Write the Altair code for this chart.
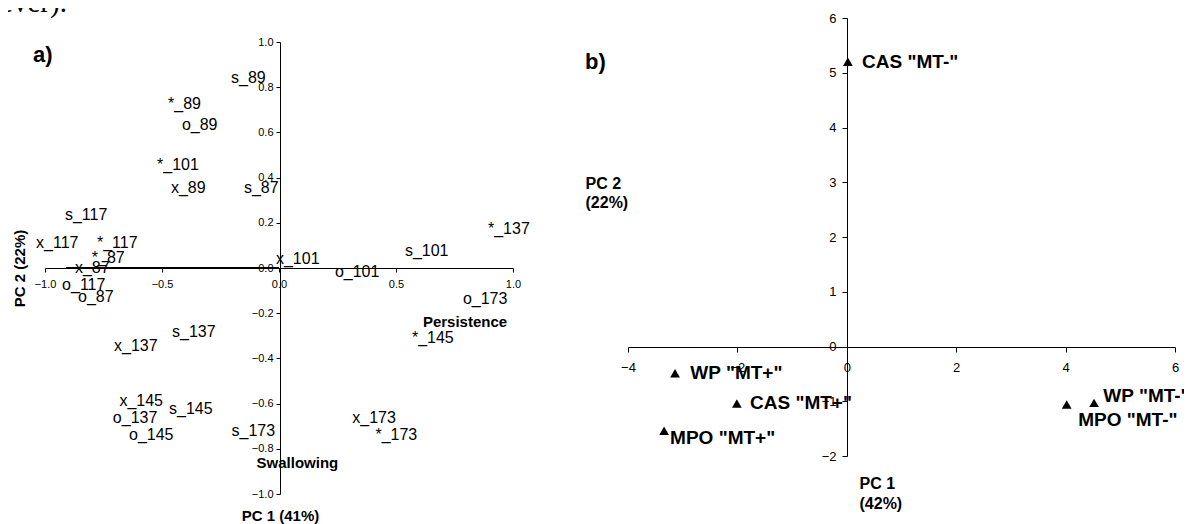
import altair as alt
import pandas as pd

FONT = "Liberation Sans"

# ---------------- panel a) data ----------------
a_labels = ["s_89", "*_89", "o_89", "*_101", "x_89", "s_87", "s_117", "x_117",
            "*_117", "*_87", "x_87", "o_117", "o_87", "s_137", "x_137", "x_145",
            "s_145", "o_137", "o_145", "s_173", "x_173", "*_173", "x_101",
            "o_101", "s_101", "*_137", "o_173", "*_145"]
a_x = [-0.205, -0.474, -0.415, -0.521, -0.462, -0.150, -0.915, -1.038,
       -0.778, -0.800, -0.872, -0.927, -0.859, -0.457, -0.705, -0.682,
       -0.470, -0.710, -0.641, -0.203, 0.313, 0.412, -0.013,
       0.239, 0.538, 0.893, 0.786, 0.568]
a_y = [0.840, 0.726, 0.633, 0.456, 0.354, 0.354, 0.235, 0.111,
       0.111, 0.044, 0.000, -0.075, -0.128, -0.283, -0.345, -0.589,
       -0.625, -0.662, -0.739, -0.720, -0.665, -0.739, 0.040,
       -0.018, 0.075, 0.173, -0.137, -0.310]
a_var_labels = ["Persistence", "Swallowing"]
a_var_x = [0.615, -0.096]
a_var_y = [-0.239, -0.861]
a_seg_x = [-0.91]
a_seg_x2 = [0.0]
a_seg_y = [0.0]
a_xticks = [-1.0, -0.5, 0.0, 0.5, 1.0]
a_yticks = [1.0, 0.8, 0.6, 0.4, 0.2, 0.0, -0.2, -0.4, -0.6, -0.8, -1.0]
a_tag = ["a)"]
a_tag_x = [-1.051]
a_tag_y = [0.942]
page_text = ["ever)."]
page_text_x = [-1.192]
page_text_y = [1.133]

# ---------------- panel b) data ----------------
b_labels = ['CAS "MT-"', 'WP "MT+"', 'CAS "MT+"', 'MPO "MT+"', 'WP "MT-"', 'MPO "MT-"']
b_x = [0.02, -3.14, -2.01, -3.34, 4.52, 4.02]
b_y = [5.20, -0.49, -1.04, -1.54, -1.03, -1.06]
b_lab_x = [0.28, -2.86, -1.77, -3.23, 4.69, 4.23]
b_lab_y = [5.20, -0.49, -1.04, -1.68, -0.91, -1.34]
b_xticks = [-4, -2, 0, 2, 4, 6]
b_yticks = [-2, -1, 0, 1, 2, 3, 4, 5, 6]
b_tag = ["b)"]
b_tag_x = [-4.786]
b_tag_y = [5.196]

# ---------------- scales / axes ----------------
W, H = 1176, 516
ax_scale = alt.Scale(domain=[-1, 1], range=[37, 505], nice=False, zero=False)
ay_scale = alt.Scale(domain=[-1, 1], range=[486, 34], nice=False, zero=False)
bx_scale = alt.Scale(domain=[-4, 6], range=[620, 1167], nice=False, zero=False)
by_scale = alt.Scale(domain=[-2, 6], range=[448, 10], nice=False, zero=False)

common = dict(grid=False, domainColor="black", tickColor="black", labelColor="black",
              domainWidth=1, tickWidth=1, labelFont=FONT, titleFont=FONT,
              titleColor="black", titleFontWeight="bold", labelFlush=False,
              labelOverlap=False, labelBound=False)

ax_axis = alt.Axis(values=a_xticks, format=".1f", orient="bottom", offset=260 - H,
                   tickSize=4, labelPadding=6, labelFontSize=11,
                   title="PC 1 (41%)", titleX=272, titleY=247, titleAlign="center",
                   titleBaseline="middle", titleFontSize=15, **common)
ay_axis = alt.Axis(values=a_yticks, format=".1f", orient="left", offset=-272,
                   tickSize=4, labelPadding=3, labelFontSize=11,
                   title="PC 2 (22%)", titleX=-261, titleY=260, titleAngle=270,
                   titleAlign="center", titleBaseline="middle", titleFontSize=15,
                   **common)
bx_axis = alt.Axis(values=b_xticks, format="d", orient="bottom", offset=339 - H,
                   tickSize=5, labelPadding=9, labelFontSize=13,
                   title=["PC 1", "(42%)"], titleX=851, titleY=128, titleAlign="left",
                   titleBaseline="top", titleFontSize=16, titleLineHeight=20, **common)
by_axis = alt.Axis(values=b_yticks, format="d", orient="left", offset=-839,
                   tickSize=5, labelPadding=6, labelFontSize=13,
                   title=["PC 2", "(22%)"], titleX=-262, titleY=167, titleAngle=0,
                   titleAlign="left", titleBaseline="top", titleFontSize=16,
                   titleLineHeight=19, **common)


def AX(f):
    return alt.X(f, scale=ax_scale, axis=ax_axis)


def AY(f):
    return alt.Y(f, scale=ay_scale, axis=ay_axis)


def BX(f):
    return alt.X(f, scale=bx_scale, axis=bx_axis)


def BY(f):
    return alt.Y(f, scale=by_scale, axis=by_axis)


# ---------------- panel a) layers ----------------
a_text = alt.Chart(pd.DataFrame({"x": a_x, "y": a_y, "label": a_labels})).mark_text(
    align="left", baseline="middle", font=FONT, fontSize=16, color="black"
).encode(x=AX("x:Q"), y=AY("y:Q"), text="label:N")

a_seg = alt.Chart(pd.DataFrame({"x": a_seg_x, "x2": a_seg_x2, "y": a_seg_y})).mark_rule(
    color="black", strokeWidth=2
).encode(x=AX("x:Q"), x2="x2:Q", y=AY("y:Q"))

a_var = alt.Chart(pd.DataFrame({"x": a_var_x, "y": a_var_y, "label": a_var_labels})).mark_text(
    align="left", baseline="middle", font=FONT, fontSize=15, fontWeight="bold", color="black"
).encode(x=AX("x:Q"), y=AY("y:Q"), text="label:N")

a_tagc = alt.Chart(pd.DataFrame({"x": a_tag_x, "y": a_tag_y, "label": a_tag})).mark_text(
    align="left", baseline="middle", font=FONT, fontSize=22, fontWeight="bold", color="black"
).encode(x=AX("x:Q"), y=AY("y:Q"), text="label:N")

a_page = alt.Chart(pd.DataFrame({"x": page_text_x, "y": page_text_y, "label": page_text})).mark_text(
    align="left", baseline="alphabetic", font="Liberation Serif", fontSize=29, color="black"
).encode(x=AX("x:Q"), y=AY("y:Q"), text="label:N")

panel_a = alt.layer(a_seg, a_text, a_var, a_tagc, a_page)

# ---------------- panel b) layers ----------------
b_pts = alt.Chart(pd.DataFrame({"x": b_x, "y": b_y})).mark_point(
    shape="triangle-up", filled=True, size=95, color="black", opacity=1
).encode(x=BX("x:Q"), y=BY("y:Q"))

b_text = alt.Chart(pd.DataFrame({"x": b_lab_x, "y": b_lab_y, "label": b_labels})).mark_text(
    align="left", baseline="middle", font=FONT, fontSize=19, fontWeight="bold", color="black"
).encode(x=BX("x:Q"), y=BY("y:Q"), text="label:N")

b_tagc = alt.Chart(pd.DataFrame({"x": b_tag_x, "y": b_tag_y, "label": b_tag})).mark_text(
    align="left", baseline="middle", font=FONT, fontSize=22, fontWeight="bold", color="black"
).encode(x=BX("x:Q"), y=BY("y:Q"), text="label:N")

panel_b = alt.layer(b_pts, b_text, b_tagc)

chart = alt.layer(panel_a, panel_b).resolve_scale(
    x="independent", y="independent"
).properties(
    width=W, height=H, padding=0,
    autosize=alt.AutoSizeParams(type="none"),
).configure_view(stroke=None)

chart.save("out.html", embed_options={"renderer": "svg", "actions": False})
